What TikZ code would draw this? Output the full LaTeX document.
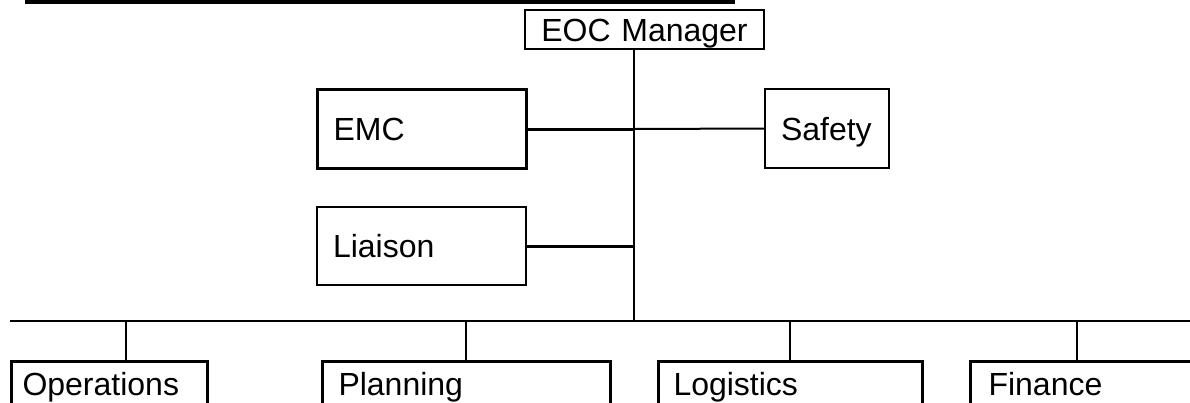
\documentclass[tikz,border=0pt]{standalone}
\usepackage{fontspec}
\setmainfont{Liberation Sans}
\usetikzlibrary{calc}
\begin{document}
\begin{tikzpicture}[x=1pt,y=-1pt,
  box/.style={draw, line width=2pt, anchor=north west, inner ysep=0pt,
    text height=23pt, text depth=0pt, align=left,
    font=\fontsize{32}{38}\selectfont},
  thickbox/.style={box, line width=3pt},
  thin/.style={line width=2pt},
  thick3/.style={line width=3pt}]
\useasboundingbox (0,0) rectangle (1190,402);
\clip (0,0) rectangle (1190,402);
\fill[white] (0,0) rectangle (1190,402);
% header rule
\coordinate (hl) at (25,2);
\coordinate (hr) at (735,2);
\draw[line width=4pt] (hl) -- (hr);
% boxes
\node[box, minimum width=239pt, minimum height=39pt, inner xsep=0pt, align=center, text width=239pt] (eoc) at (524,9) {EOC Manager};
\node[thickbox, minimum width=209pt, minimum height=79pt, inner xsep=16pt, text width=177pt] (emc) at (316,88) {EMC};
\node[box, minimum width=124pt, minimum height=79pt, inner xsep=16pt, text width=92pt] (safety) at (764,88) {Safety};
\node[box, minimum width=209pt, minimum height=78pt, inner xsep=16pt, text width=177pt] (liaison) at (316,206) {Liaison};
\node[thickbox, minimum width=196pt, minimum height=44pt, inner xsep=11pt, text width=174pt] (ops) at (10,360) {Operations};
\node[thickbox, minimum width=288pt, minimum height=44pt, inner xsep=16pt, text width=256pt] (plan) at (321,360) {Planning};
\node[thickbox, minimum width=264pt, minimum height=44pt, inner xsep=15pt, text width=234pt] (logi) at (657,360) {Logistics};
\node[thickbox, minimum width=240pt, minimum height=44pt, inner xsep=18pt, text width=204pt] (fin) at (969,360) {Finance};
% trunk and bus
\coordinate (trunk) at (634,321);
\coordinate (busL) at (10,321);
\coordinate (busR) at (1190,321);
\draw[thin] (eoc.south -| trunk) -- (trunk);
\draw[thick3] (emc.east) -- (emc.east -| trunk);
\draw[thin] (emc.east -| trunk) -- (safety.west);
\draw[thick3] (liaison.east) -- (liaison.east -| trunk);
\draw[thin] (busL) -- (busR);
% drops
\coordinate (d1) at (126,321);
\coordinate (d2) at (466,321);
\coordinate (d3) at (790,321);
\coordinate (d4) at (1077,321);
\draw[thin] (d1) -- (d1 |- ops.north);
\draw[thin] (d2) -- (d2 |- plan.north);
\draw[thin] (d3) -- (d3 |- logi.north);
\draw[thin] (d4) -- (d4 |- fin.north);
\end{tikzpicture}
\end{document}
